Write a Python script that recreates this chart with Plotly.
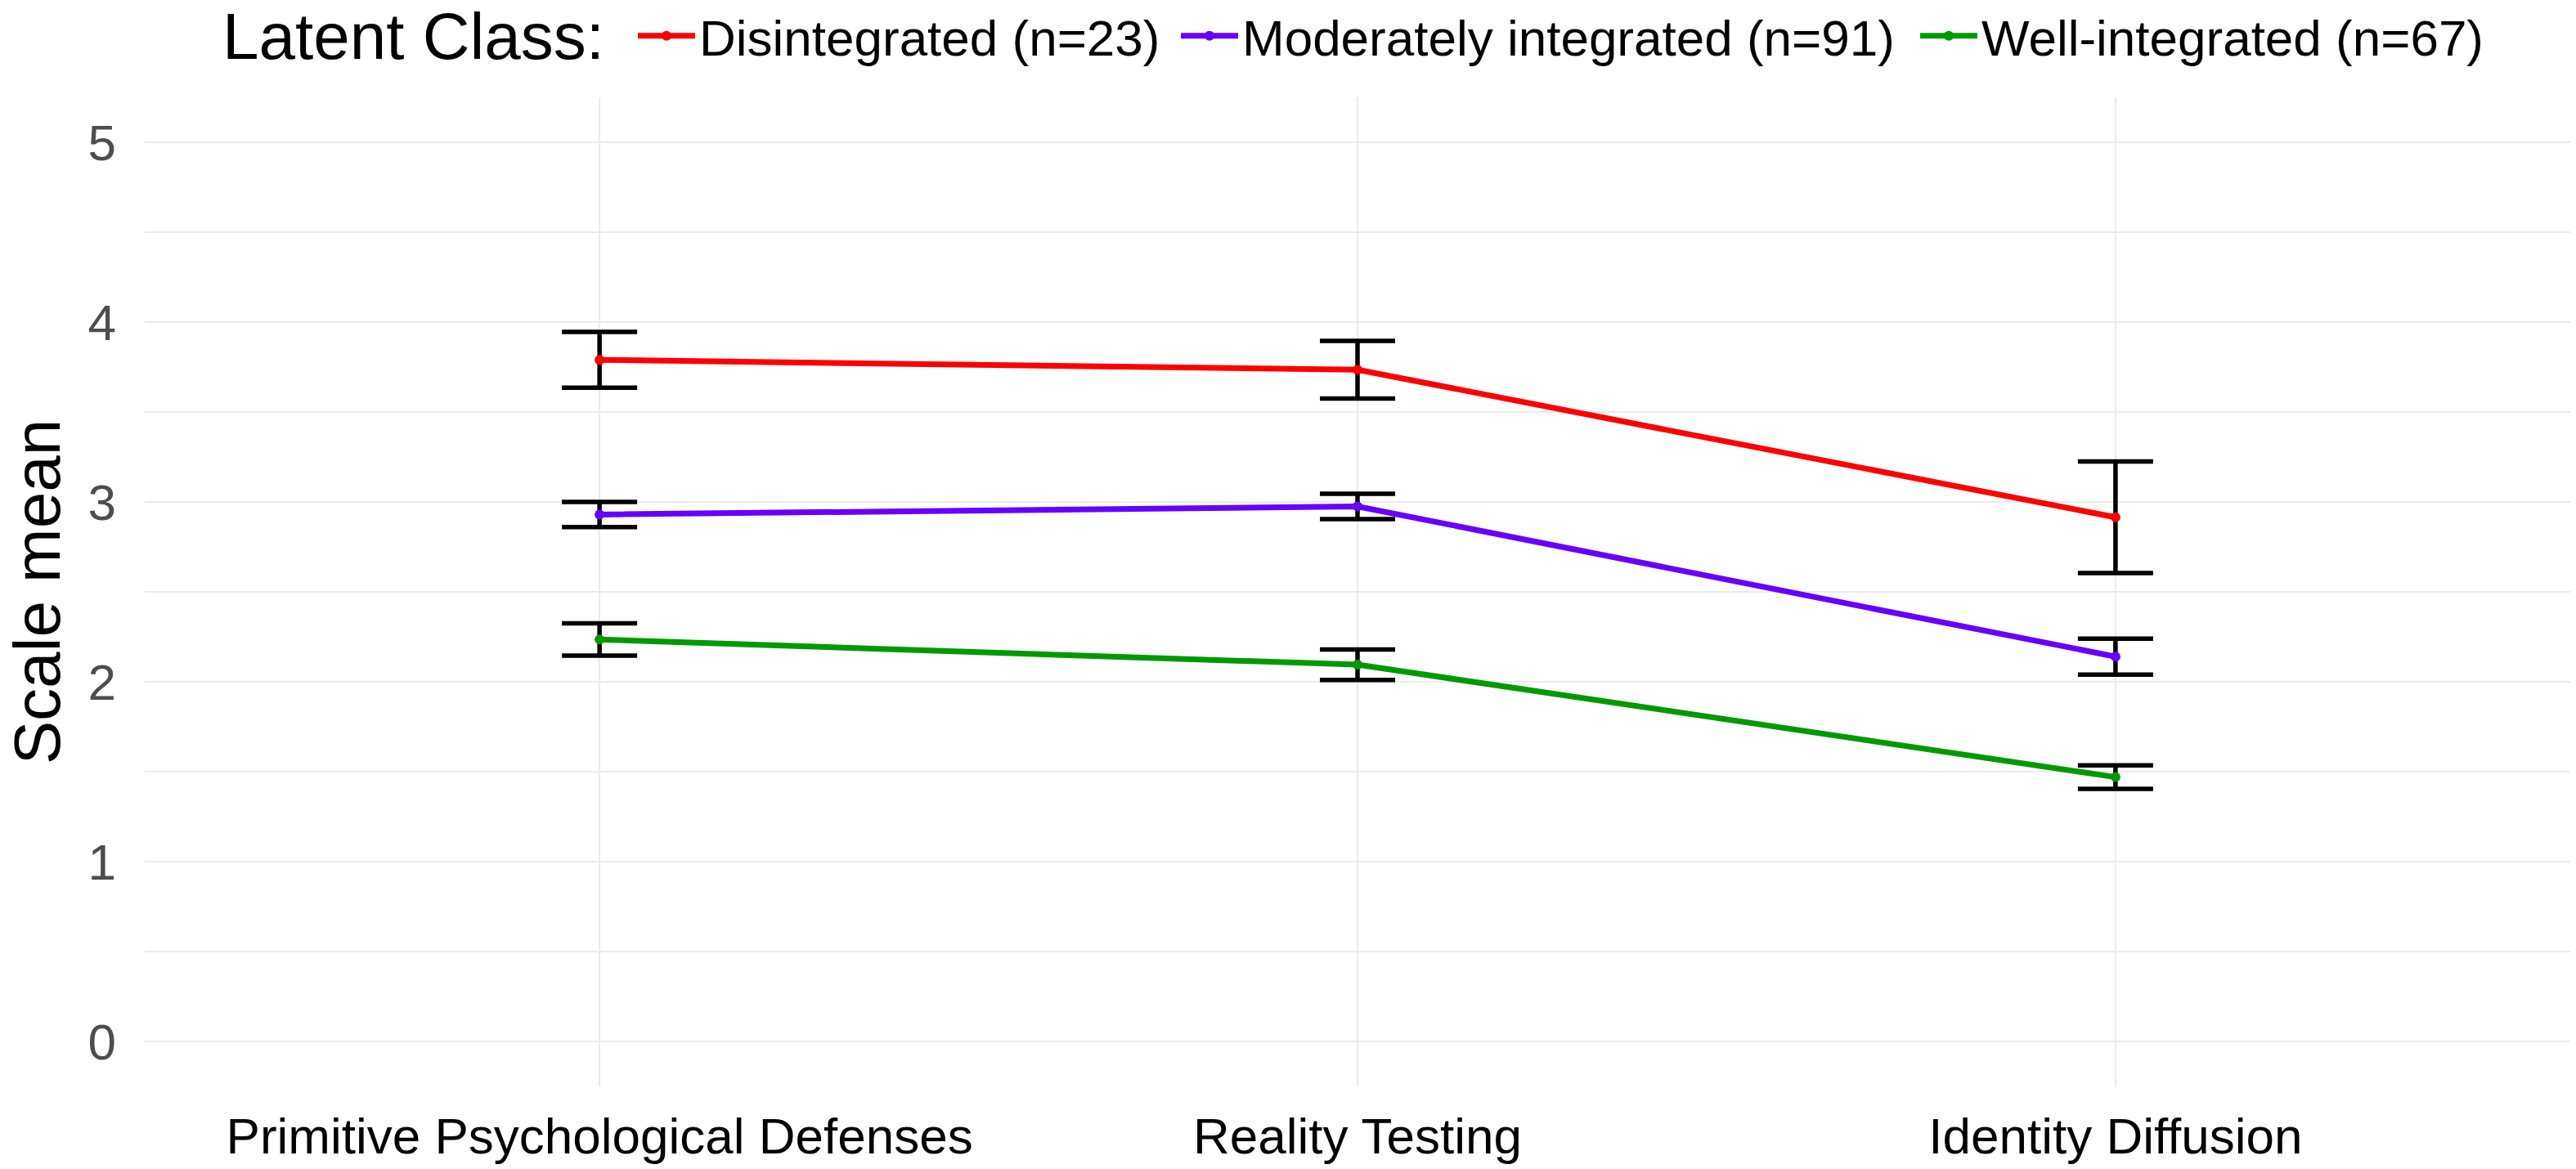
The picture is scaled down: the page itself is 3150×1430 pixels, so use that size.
import plotly.graph_objects as go

# ---- data ----
categories = ["Primitive Psychological Defenses", "Reality Testing", "Identity Diffusion"]
legend_title = "Latent Class:"
class_names = ["Disintegrated (n=23)", "Moderately integrated (n=91)", "Well-integrated (n=67)"]
disintegrated_mean = [3.79, 3.735, 2.915]
disintegrated_err = [0.155, 0.16, 0.31]
moderate_mean = [2.93, 2.975, 2.14]
moderate_err = [0.07, 0.07, 0.10]
well_mean = [2.235, 2.095, 1.47]
well_err = [0.09, 0.085, 0.065]
y_ticks = [0, 1, 2, 3, 4, 5]

means = [disintegrated_mean, moderate_mean, well_mean]
errs = [disintegrated_err, moderate_err, well_err]
colors = ["#FF0000", "#6600FF", "#009A00"]

FONT = "Liberation Sans, Arial, Helvetica, sans-serif"
W, H = 3150, 1430
ML, MR, MT, MB = 177, 7, 119, 101
legend_ids = ["legend", "legend2", "legend3"]
legend_px = [775, 1439, 2343]

fig = go.Figure()

# error bars first (drawn beneath lines)
for m, e in zip(means, errs):
    fig.add_trace(go.Scatter(
        x=categories, y=m, mode="markers",
        marker=dict(size=1, color="rgba(0,0,0,0)"),
        error_y=dict(type="data", array=e, visible=True,
                     color="black", thickness=5.5, width=46),
        showlegend=False, hoverinfo="skip",
    ))

for name, m, c, lg in zip(class_names, means, colors, legend_ids):
    fig.add_trace(go.Scatter(
        x=categories, y=m, mode="lines+markers", name=name,
        line=dict(color=c, width=7),
        marker=dict(color=c, size=12),
        legend=lg,
    ))

legend_common = dict(
    orientation="h", xanchor="left", xref="container",
    y=1 - 44 / H, yanchor="middle", yref="container",
    font=dict(size=62, family=FONT, color="black"),
    itemwidth=70, borderwidth=0, bgcolor="rgba(0,0,0,0)",
)
layout_legends = {lg: dict(x=px / W, **legend_common) for lg, px in zip(legend_ids, legend_px)}

grid_col = "#EBEBEB"
fig.update_layout(
    width=W, height=H,
    margin=dict(l=ML, r=MR, t=MT, b=MB, autoexpand=False),
    plot_bgcolor="white", paper_bgcolor="white",
    font=dict(family=FONT, size=62, color="black"),
    showlegend=True,
    **layout_legends,
    annotations=[dict(
        text=legend_title, showarrow=False,
        xref="paper", yref="paper",
        x=(270 - ML) / (W - ML - MR), xanchor="left",
        y=1 + (MT - 44) / (H - MT - MB), yanchor="middle",
        font=dict(size=80, family=FONT, color="black"),
    )],
    xaxis=dict(
        type="category",
        range=[-0.6, 2.6],
        automargin=False,
        showgrid=True, gridcolor=grid_col, gridwidth=2,
        zeroline=False, showline=False, ticks="",
        tickfont=dict(size=62, color="black", family=FONT),
        ticklabelstandoff=19,
    ),
    yaxis=dict(
        range=[-0.25, 5.25],
        tickvals=y_ticks,
        automargin=False,
        showgrid=True, gridcolor=grid_col, gridwidth=2,
        minor=dict(dtick=0.5, showgrid=True, gridcolor=grid_col, gridwidth=1.5),
        zeroline=False, showline=False, ticks="",
        tickfont=dict(size=62, color="#4D4D4D", family=FONT),
        ticklabelstandoff=34,
        title=dict(text="Scale mean", font=dict(size=80, color="black", family=FONT), standoff=7),
    ),
)

fig.write_html("out.html", config={"displayModeBar": False},
               post_script="document.body.style.margin='0';")
